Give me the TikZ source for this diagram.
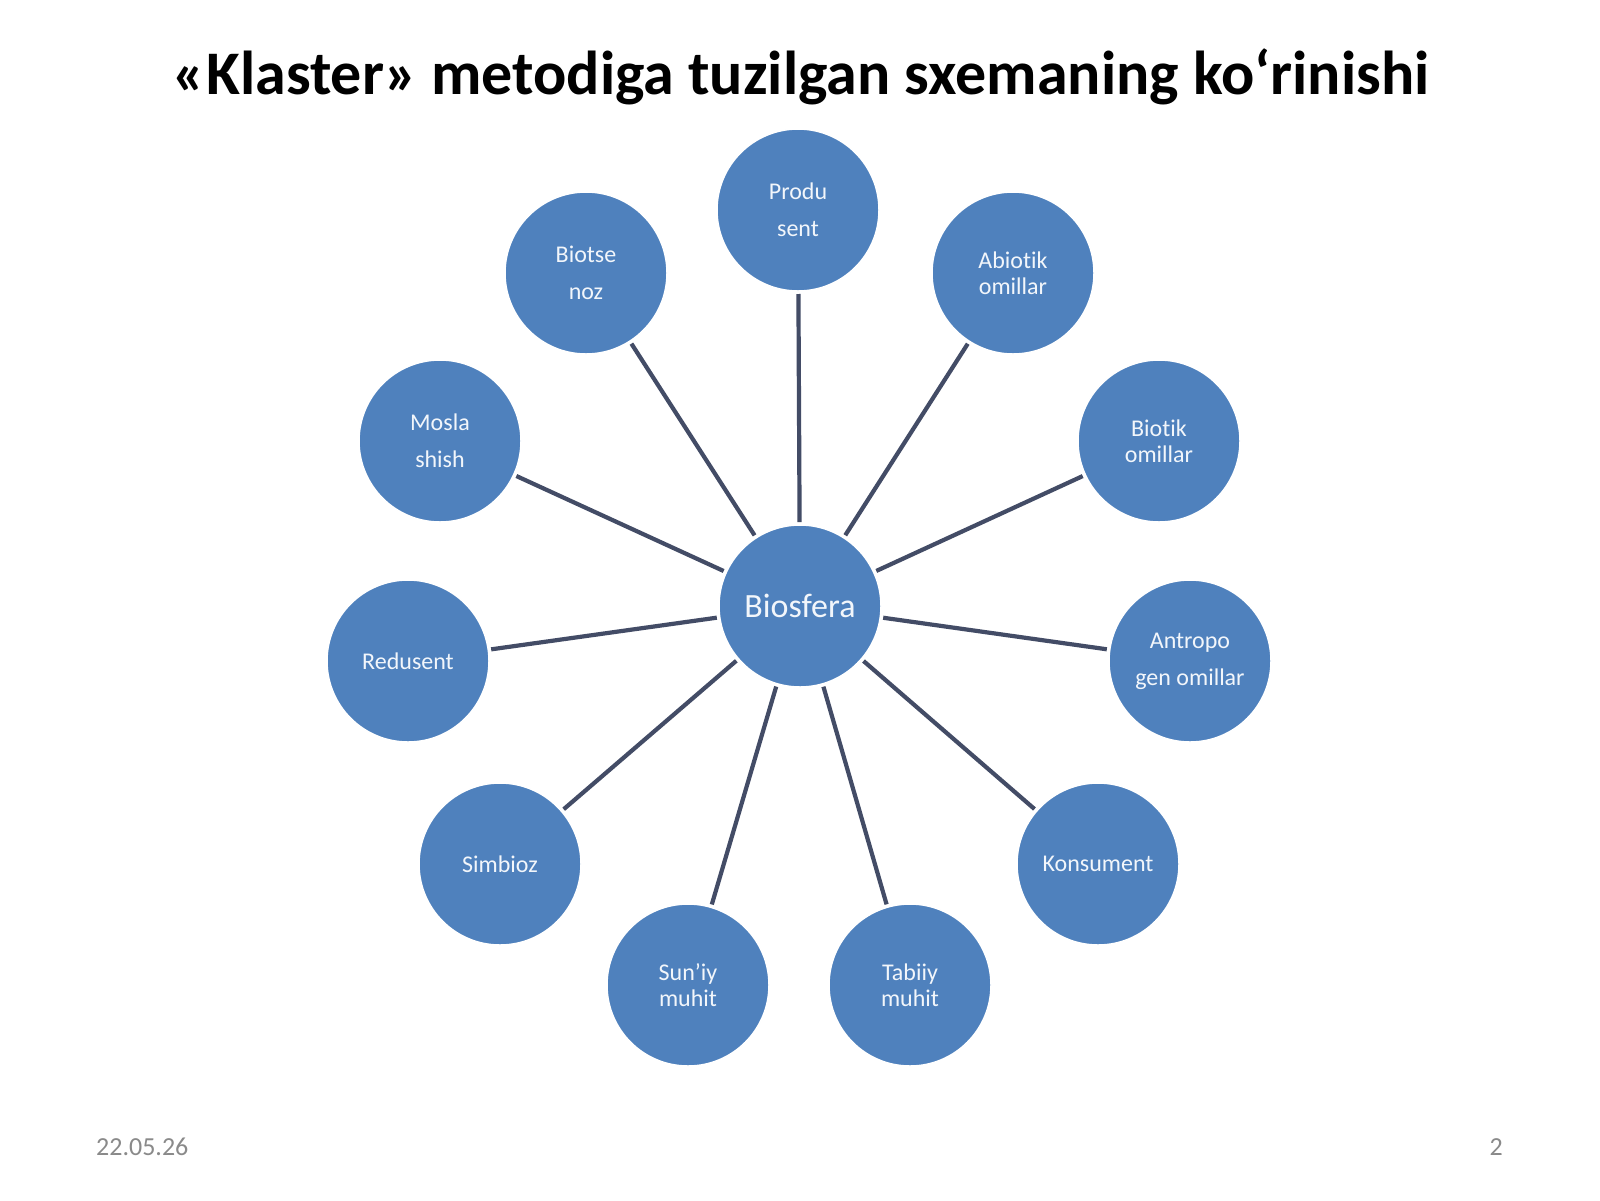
\documentclass[tikz,border=0pt]{standalone}
\usepackage{fontspec}
\setmainfont{Carlito}[Ligatures=NoCommon]
\definecolor{nodeblue}{HTML}{4F81BD}
\definecolor{linkcol}{HTML}{434C66}
\definecolor{footgray}{HTML}{8A8A8A}
\definecolor{nodetext}{HTML}{F2F6FB}
\begin{document}
\begin{tikzpicture}[x=1pt,y=-1pt,
  bubble/.style={circle, fill=nodeblue, draw=white, line width=1.5pt, minimum size=162pt, inner sep=0pt, outer sep=0pt, text=nodetext, font=\fontsize{24}{26}\selectfont, align=center},
  hub/.style={bubble, font=\fontsize{34}{40}\selectfont},
  link/.style={draw=linkcol, line width=4.2pt, shorten >=3pt, shorten <=3pt},
  foot/.style={text=footgray, font=\fontsize{26}{30}\selectfont, inner sep=0pt}]
\useasboundingbox (0,0) rectangle (1600,1200);
\fill[white] (0,0) rectangle (1600,1200);
\node[font=\bfseries\fontsize{62}{70}\selectfont, anchor=base, inner sep=0pt] (title) at (801,94) {«Klaster» metodiga tuzilgan sxemaning ko‘rinishi};
% nodes
\node[hub] (c) at (800,606) {Biosfera};
\node[bubble] (produ) at (798,210) {Produ\\[11pt]sent};
\node[bubble] (biotse) at (586,273) {Biotse\\[11pt]noz};
\node[bubble] (abiotik) at (1013,273) {Abiotik\\omillar};
\node[bubble] (mosla) at (440,441) {Mosla\\[11pt]shish};
\node[bubble] (biotik) at (1159,441) {Biotik\\omillar};
\node[bubble] (redusent) at (408,661) {Redusent};
\node[bubble] (antropo) at (1190,661) {Antropo\\[11pt]gen omillar};
\node[bubble] (simbioz) at (500,864) {Simbioz};
\node[bubble] (konsument) at (1098,864) {Konsument};
\node[bubble] (suniy) at (688,985) {Sun’iy\\muhit};
\node[bubble] (tabiiy) at (910,985) {Tabiiy\\muhit};
% links
\foreach \n in {produ,biotse,abiotik,mosla,biotik,redusent,antropo,simbioz,konsument,suniy,tabiiy}
  \draw[link] (c) -- (\n);
% footer
\node[foot, anchor=base west] (date) at (96,1155) {22.05.26};
\node[foot, anchor=base east] (page) at (1503,1155) {2};
\end{tikzpicture}
\end{document}
